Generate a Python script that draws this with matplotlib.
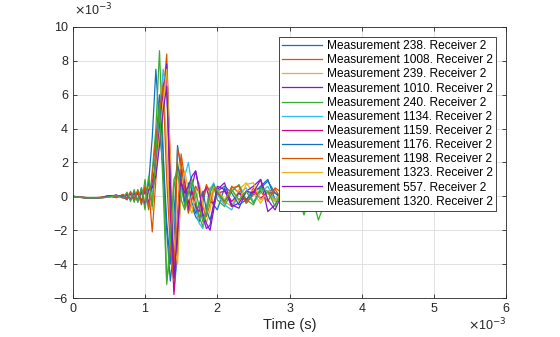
import matplotlib
matplotlib.use("Agg")
import matplotlib.pyplot as plt

plt.rcParams['font.family'] = ['Liberation Sans', 'DejaVu Sans']

# time in ms (axis shows x10^-3 s), amplitude in units of 1e-3
t = [0, 0.1, 0.2, 0.3, 0.4, 0.5, 0.6, 0.7,
     0.75, 0.8, 0.85, 0.9, 0.95, 1.0, 1.05, 1.1, 1.15, 1.2, 1.25, 1.3, 1.35,
     1.4, 1.45, 1.5, 1.55, 1.6, 1.65, 1.7, 1.75, 1.8, 1.85, 1.9, 1.95, 2.0,
     2.1, 2.2, 2.3, 2.4, 2.5, 2.6, 2.7, 2.8, 2.9, 3.0, 3.1, 3.2, 3.3, 3.4, 3.5, 3.6]

labels = ["Measurement 238. Receiver 2", "Measurement 1008. Receiver 2",
          "Measurement 239. Receiver 2", "Measurement 1010. Receiver 2",
          "Measurement 240. Receiver 2", "Measurement 1134. Receiver 2",
          "Measurement 1159. Receiver 2", "Measurement 1176. Receiver 2",
          "Measurement 1198. Receiver 2", "Measurement 1323. Receiver 2",
          "Measurement 557. Receiver 2", "Measurement 1320. Receiver 2"]

m238 = [0, -0.05, -0.08, -0.1, -0.08, -0.05, 0.05, -0.1,
        0.15, -0.1, 0.2, -0.25, 0.3, -0.5, 0.8, 3.5, 7.5, 4.0, 1.5, -2.0, -5.0,
        -3.0, 3.0, 1.5, -0.5, 0.8, -0.6, -1.2, -1.5, -0.4, 0.6, 0.3, -0.5, -0.8,
        0.5, -0.6, 0.3, -0.4, 0.2, 0.6, 1.0, -0.2, 0.3, -0.3, 0.2, -0.2, 0.3, -0.2, 0.1, 0.0]
m1008 = [0, -0.05, -0.1, -0.08, -0.05, 0.05, -0.08, 0.1,
         -0.15, 0.2, -0.2, 0.3, -0.3, 0.4, 0.5, -2.1, 1.0, 4.5, 6.0, 8.4, 2.0,
         -5.3, -1.0, 2.5, 1.0, -0.8, 0.5, -0.5, -1.3, -0.2, 0.7, 0.2, -0.6, 0.3,
         -0.4, 0.6, 0.2, -0.3, 0.5, -0.2, 0.3, 0.4, -0.2, 0.2, -0.3, 0.2, -0.1, 0.2, -0.1, 0.0]
m239 = [0, -0.04, -0.08, -0.1, -0.06, 0.03, 0.06, -0.12,
        0.2, -0.15, 0.25, -0.2, 0.4, -0.3, 0.6, -0.8, 2.5, 5.5, 7.0, 3.0, -2.0,
        -4.5, -2.0, 1.8, 0.8, -0.5, -1.0, 0.3, 0.8, -0.3, -1.6, -0.8, 0.3, 0.5,
        -0.3, -0.6, 0.4, 0.8, 0.2, -0.4, 0.3, -0.2, 0.4, -0.1, 0.2, -0.2, 0.1, 0.1, -0.1, 0.0]
m1010 = [0, -0.05, -0.09, -0.1, -0.07, -0.03, 0.08, -0.05,
         -0.2, 0.15, -0.25, 0.2, -0.4, 0.5, -0.6, 0.8, 1.5, 5.0, 6.0, 7.8, 1.5,
         -5.5, -3.0, 1.0, 0.5, -0.8, 0.6, 1.5, 0.5, -1.0, -1.6, -2.0, -0.8, 0.4,
         0.8, -0.5, -0.7, 0.3, 0.6, 1.0, -0.9, -0.5, 0.3, -0.3, 0.2, -0.2, 0.2, -0.1, 0.1, 0.0]
m240 = [0, -0.06, -0.1, -0.09, -0.06, 0.02, -0.06, 0.12,
        -0.2, 0.3, -0.35, 0.4, -0.5, 1.0, -0.8, 1.5, 4.0, 8.6, 3.0, -5.0, -3.5,
        0.5, 2.0, 0.6, -0.6, 0.4, 1.0, -0.2, -1.2, -1.8, -0.6, 0.5, 0.6, -0.2,
        -0.6, 0.3, 0.7, -0.2, -0.5, 0.4, 0.2, -0.3, 0.2, -0.2, 0.3, -0.1, 0.1, -0.1, 0.0, 0.0]
m1134 = [0, -0.04, -0.07, -0.1, -0.08, -0.04, 0.04, -0.08,
         0.1, -0.2, 0.15, -0.3, 0.25, -0.4, 0.3, 0.6, 2.0, 4.5, 7.5, 6.0, 0.5,
         -5.6, -3.5, 0.5, 1.2, 2.0, 0.6, -0.8, -1.6, -1.9, -0.8, 0.4, 0.8, 0.1,
         -0.5, -0.8, 0.2, 0.5, -0.3, 0.2, 0.6, -0.3, 0.3, -0.2, 0.2, -0.2, 0.1, -0.1, 0.1, 0.0]
m1159 = [0, -0.05, -0.08, -0.09, -0.07, 0.03, -0.04, 0.08,
         -0.1, 0.2, -0.15, 0.3, -0.3, 0.35, -0.4, 0.9, 1.8, 4.0, 6.5, 7.2, -1.0,
         -5.8, -2.5, 1.6, 0.8, -0.4, 0.3, -0.6, -0.9, 0.2, 0.5, -0.3, -0.4, 0.2,
         0.3, -0.3, 0.2, -0.2, 0.3, -0.1, 0.2, 0.2, -0.1, 0.1, -0.1, 0.1, 0.0, 0.1, 0.0, 0.0]
m1176 = [0, -0.05, -0.1, -0.11, -0.08, -0.02, 0.07, -0.06,
         0.15, -0.2, 0.3, -0.35, 0.5, -0.6, 1.0, -0.5, 3.0, 6.0, 2.5, -1.5, -4.0,
         -1.0, 1.8, 1.0, -0.3, 0.5, -0.4, -1.0, -0.5, 0.3, -0.8, -1.4, -0.5, 0.3,
         0.6, 0.2, -0.5, -0.2, 0.3, 0.5, 0.9, 0.2, -0.2, 0.2, -0.2, 0.1, -0.1, 0.1, 0.0, 0.0]
m1198 = [0, -0.04, -0.09, -0.1, -0.06, 0.04, -0.05, 0.1,
         -0.15, 0.25, -0.2, 0.35, -0.45, 0.6, -0.7, 1.2, 3.5, 5.0, 6.5, 1.0, -3.0,
         -5.0, 2.8, 2.0, 0.2, -1.0, -0.2, 0.6, 0.2, -0.6, -1.2, -0.4, 0.5, 0.2,
         -0.3, 0.5, 0.6, -0.4, 0.1, 0.3, -0.3, 0.5, 0.2, -0.2, 0.2, -0.1, 0.2, -0.1, 0.0, 0.0]
m1323 = [0, -0.05, -0.07, -0.1, -0.09, -0.03, 0.05, -0.1,
         0.2, -0.1, 0.2, -0.3, 0.35, -0.4, 0.5, -0.3, 1.5, 3.5, 5.5, 7.5, 2.5,
         -2.5, -4.0, 0.5, 1.5, 0.3, -0.7, -0.2, 0.4, -0.5, -1.0, -0.2, 0.6, 0.4,
         -0.2, 0.4, -0.3, 0.7, 0.8, -0.2, 0.2, -0.3, 0.3, -0.2, 0.1, -0.1, 0.2, -0.1, 0.0, 0.0]
m557 = [0, -0.05, -0.08, -0.11, -0.07, 0.03, 0.05, -0.07,
        0.12, -0.18, 0.2, -0.25, 0.3, -0.5, 0.4, 0.5, 1.2, 3.0, 5.0, 6.5, 0.8,
        -4.8, -2.0, 0.8, 0.2, 0.6, 1.2, 1.5, 0.4, -1.2, -1.9, -1.7, -0.5, 0.6,
        0.4, -0.6, -0.4, 0.3, 0.2, 1.0, -0.2, -0.8, 0.2, -0.3, 0.3, -0.2, 0.1, -0.1, 0.1, 0.0]
m1320 = [0, -0.06, -0.09, -0.1, -0.07, -0.03, 0.06, -0.1,
         0.25, -0.3, 0.4, -0.3, 0.5, -0.8, 1.2, -0.6, 2.5, 5.5, 0.5, -5.2, -2.5,
         1.0, 1.5, -0.2, -0.8, 0.2, 0.8, 0.3, -0.6, -1.5, -1.0, 0.2, 0.7, 0.3,
         -0.3, 0.4, -0.2, 0.3, -0.4, 0.5, 0.3, -0.6, 0.4, -0.3, 0.4, -1.1, 0.2, -1.4, -0.2, 0.1]

series = [m238, m1008, m239, m1010, m240, m1134, m1159, m1176, m1198, m1323, m557, m1320]
colors = ['#1171BE', '#DD5400', '#EDB120', '#8516D1', '#3BAA32', '#2FBEEF', '#D1048B']

fig = plt.figure(figsize=(5.6, 3.37), dpi=100)
ax = fig.add_axes([0.130, 0.1157, 0.774, 0.8043])

for i, (y, lab) in enumerate(zip(series, labels)):
    ax.plot(t, y, color=colors[i % 7], linewidth=0.9, label=lab)

ax.set_xlim(0, 6)
ax.set_ylim(-6, 10)
ax.set_xticks(range(0, 7))
ax.set_yticks(range(-6, 11, 2))
ax.grid(True, color='#dcdcdc', linewidth=0.6)
ax.tick_params(direction='in', top=True, right=True, length=3, width=0.6,
               labelsize=9, colors='#262626')
for s in ax.spines.values():
    s.set_color('#262626')
    s.set_linewidth(0.6)

ax.set_xlabel("Time (s)", fontsize=10.5, color='#262626', labelpad=2)
fig.text(0.133, 0.945, r"$\times$10$^{-3}$", fontsize=9, color='#262626',
         ha='left', va='bottom')
fig.text(0.904, 0.01, r"$\times$10$^{-3}$", fontsize=9, color='#262626',
         ha='right', va='bottom')

leg = ax.legend(loc='upper right', fontsize=8.6, frameon=True, fancybox=False,
                borderaxespad=0.85, handlelength=3.4, handletextpad=0.4,
                labelspacing=0.18, borderpad=0.25)
leg.get_frame().set_edgecolor('#262626')
leg.get_frame().set_linewidth(0.6)
leg.get_frame().set_alpha(1)

fig.savefig("out.png", dpi=100)
